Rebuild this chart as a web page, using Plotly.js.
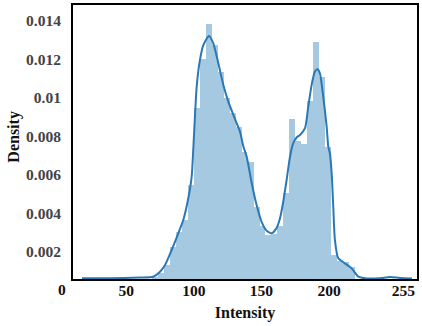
<!DOCTYPE html>
<html>
<head>
<meta charset="utf-8">
<script src="https://cdn.plot.ly/plotly-3.0.1.min.js"></script>
<style>html,body{margin:0;padding:0;background:#fff;}#chart{width:422px;height:326px;}</style>
</head>
<body>
<div id="chart"></div>
<script>
// Histogram bins (intensity bin centres) and densities
const binCenters = [71.1, 75.6, 80.0, 84.4, 88.8, 93.2, 97.7, 102.1, 106.5, 110.9,
  115.3, 119.8, 124.2, 128.6, 133.0, 137.4, 141.9, 146.3, 150.7, 155.1,
  159.5, 164.0, 168.4, 172.8, 177.2, 181.6, 186.1, 190.5, 194.9, 199.3,
  203.7, 208.2, 212.6, 217.0];
const binDensity = [0.00070, 0.00091, 0.00133, 0.00226, 0.00304, 0.00366, 0.00548, 0.00948, 0.01203, 0.01384,
  0.01275, 0.01135, 0.01000, 0.00922, 0.00849, 0.00719, 0.00668, 0.00434, 0.00335, 0.00288,
  0.00294, 0.00335, 0.00506, 0.00891, 0.00777, 0.00761, 0.00984, 0.01291, 0.01109, 0.00745,
  0.00184, 0.00153, 0.00148, 0.00122];

// KDE curve points
const kdeX = [17.3, 38.0, 60.2, 70.0, 75.0, 78.7, 83.6, 88.5, 92.2, 95.9,
  98.4, 99.6, 102.1, 104.5, 107.0, 111.2, 114.4, 118.1, 121.8, 125.5,
  129.2, 134.1, 136.5, 139.1, 142.8, 146.4, 150.1, 153.8, 157.5, 161.2,
  163.7, 166.1, 168.6, 171.1, 173.5, 176.0, 178.5, 182.2, 184.6, 187.1,
  189.5, 191.5, 193.2, 195.7, 198.2, 199.4, 200.6, 201.9, 203.1, 204.3,
  206.8, 211.7, 216.7, 221.6, 226.5, 237.6, 245.0, 252.4, 261.3];
const kdeY = [0.000634, 0.000634, 0.000675, 0.000717, 0.000977, 0.001325, 0.002104, 0.002971, 0.003662, 0.00479,
  0.005912, 0.00735, 0.01059, 0.01197, 0.01275, 0.01322, 0.01284, 0.01180, 0.01068, 0.00981,
  0.00912, 0.00825, 0.00751, 0.00695, 0.00557, 0.00444, 0.00357, 0.00311, 0.00297, 0.00325,
  0.00375, 0.00461, 0.00574, 0.00695, 0.00766, 0.00795, 0.00808, 0.00843, 0.00955, 0.01068,
  0.01137, 0.01149, 0.01128, 0.01007, 0.00851, 0.00747, 0.00713, 0.00609, 0.00435, 0.00262,
  0.00167, 0.00141, 0.00115, 0.000717, 0.000634, 0.000639, 0.00070, 0.00065, 0.000623];

const xTickVals = [50, 100, 150, 200, 255];
const xTickText = ['50', '100', '150', '200', '255'];
const yTickVals = [0.002, 0.004, 0.006, 0.008, 0.01, 0.012, 0.014];
const yTickText = ['0.002', '0.004', '0.006', '0.008', '0.01', '0.012', '0.014'];
const xZeroLabel = '0';
const xTitle = 'Intensity';
const yTitle = 'Density';

const serif = 'Liberation Serif, Times New Roman, serif';

const traces = [
  {
    type: 'bar', x: binCenters, y: binDensity, width: 4.5,
    marker: {color: 'rgb(165,201,225)', line: {width: 0}},
    hoverinfo: 'skip', showlegend: false
  },
  {
    type: 'scatter', mode: 'lines', x: kdeX, y: kdeY,
    line: {color: '#2a78b5', width: 2, shape: 'spline', smoothing: 0.6},
    hoverinfo: 'skip', showlegend: false
  }
];

const layout = {
  width: 422, height: 326,
  margin: {l: 73, r: 5, t: 5, b: 47, pad: 0},
  paper_bgcolor: '#ffffff', plot_bgcolor: '#ffffff',
  bargap: 0,
  xaxis: {
    range: [10.65, 265], showgrid: false, zeroline: false,
    showline: true, mirror: true, linecolor: '#000', linewidth: 2,
    ticks: '', tickvals: xTickVals, ticktext: xTickText, ticklabelstandoff: -4,
    tickfont: {family: serif, size: 15.5, color: '#111', weight: 'bold'},
    title: {text: xTitle, font: {family: serif, size: 16, color: '#111', weight: 'bold'}, standoff: 9}
  },
  yaxis: {
    range: [0.000597, 0.01483], showgrid: false, zeroline: false,
    showline: true, mirror: true, linecolor: '#000', linewidth: 2,
    ticks: '', tickvals: yTickVals, ticktext: yTickText, ticklabelstandoff: 7,
    tickfont: {family: serif, size: 15.5, color: '#444', weight: 'bold'}
  },
  annotations: [
    {text: xZeroLabel, xref: 'paper', yref: 'paper', x: -0.032, y: -0.037,
     xanchor: 'center', yanchor: 'middle', showarrow: false,
     font: {family: serif, size: 15.5, color: '#111', weight: 'bold'}},
    {text: yTitle, xref: 'paper', yref: 'paper', x: -0.174, y: 0.52, textangle: -90,
     xanchor: 'center', yanchor: 'middle', showarrow: false,
     font: {family: serif, size: 16, color: '#111', weight: 'bold'}}
  ]
};

Plotly.newPlot('chart', traces, layout, {staticPlot: true, displayModeBar: false});
</script>
</body>
</html>
